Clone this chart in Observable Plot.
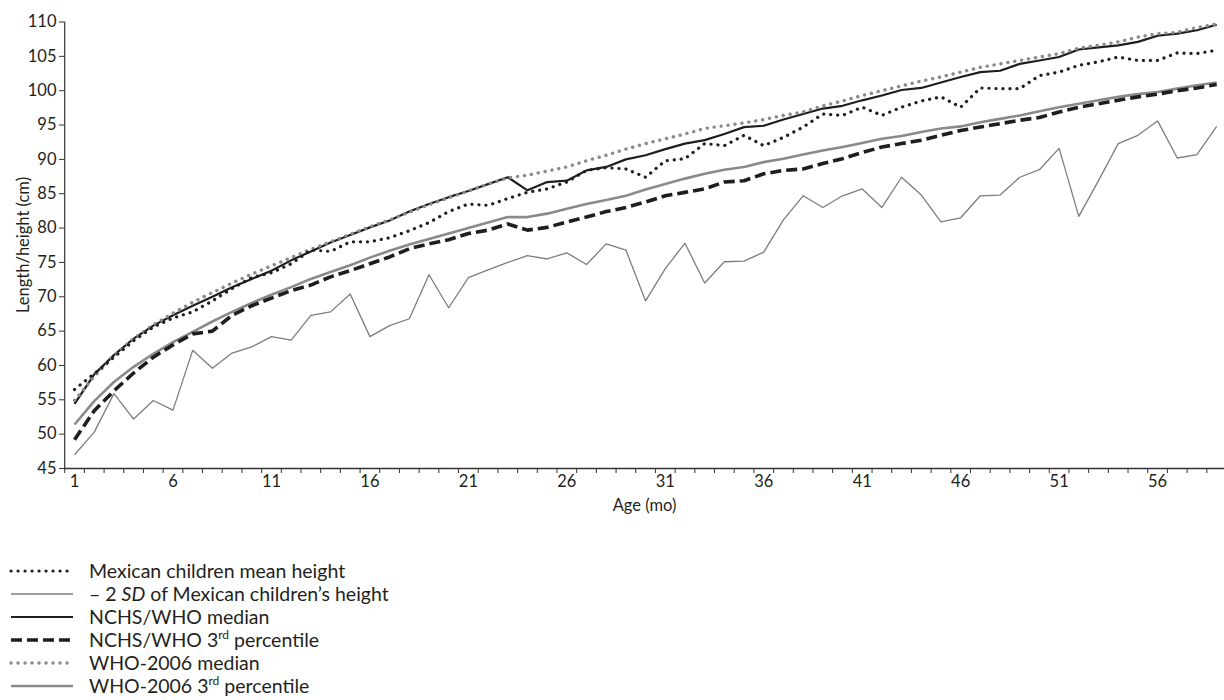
<!DOCTYPE html>
<html><head><meta charset="utf-8">
<script src="https://cdn.jsdelivr.net/npm/d3@7"></script>
<script src="https://cdn.jsdelivr.net/npm/@observablehq/plot@0.6"></script>
<style>
body{margin:0;background:#fff;font-family:Lato,"Open Sans",sans-serif;color:#231f20;}
#legend{margin-top:41px;font-size:19.5px;}
.row{display:flex;align-items:center;height:23px;}
.row svg{margin-left:9px;margin-right:14px;}
sup{font-size:12px;line-height:0;vertical-align:8px;}
</style></head><body>
<div id="chart"></div><div id="legend"></div>
<script>
const months = [1,2,3,4,5,6,7,8,9,10,11,12,13,14,15,16,17,18,19,20,21,22,23,24,25,26,27,28,29,30,31,32,33,34,35,36,37,38,39,40,41,42,43,44,45,46,47,48,49,50,51,52,53,54,55,56,57,58,59];
const xTickLabels = [1,6,11,16,21,26,31,36,41,46,51,56];
const yTicks = [45,50,55,60,65,70,75,80,85,90,95,100,105,110];

const mexMean = [56.5,58.8,61.2,63.6,65.6,66.9,67.8,69.4,71.2,72.8,
73.5,74.8,76.8,76.6,78.0,78.0,78.6,79.6,80.8,82.4,
83.5,83.3,84.3,85.2,85.7,86.7,88.4,88.8,88.6,87.4,
89.8,90.1,92.3,92.0,93.5,92.0,93.2,94.7,96.6,96.4,
97.6,96.4,97.6,98.5,99.1,97.6,100.4,100.3,100.3,102.2,
102.7,103.7,104.2,104.9,104.4,104.4,105.5,105.4,105.9];
const mexMinus2SD = [47.0,50.3,55.9,52.2,54.9,53.5,62.2,59.6,61.8,62.7,
64.2,63.7,67.3,67.8,70.4,64.2,65.8,66.8,73.2,68.4,
72.8,73.9,75.0,76.0,75.5,76.4,74.7,77.7,76.8,69.4,
74.1,77.8,72.0,75.1,75.2,76.5,81.2,84.7,83.0,84.7,
85.7,83.0,87.4,84.8,80.9,81.5,84.7,84.8,87.4,88.5,
91.6,81.7,86.9,92.3,93.5,95.6,90.2,90.7,94.8];
const nchsMedian = [54.4,58.7,61.5,63.9,65.8,67.3,68.7,70.0,71.4,72.6,
73.8,75.3,76.6,77.9,79.0,80.1,81.1,82.4,83.5,84.5,
85.4,86.4,87.4,85.5,86.7,86.9,88.4,88.9,90.0,90.6,
91.5,92.3,92.8,93.7,94.7,94.9,95.8,96.6,97.4,97.8,
98.6,99.3,100.1,100.4,101.2,102.0,102.7,102.9,103.9,104.4,
104.9,106.0,106.3,106.6,107.1,108.0,108.3,108.8,109.6];
const nchsP3 = [49.2,53.4,56.3,58.9,61.2,63.0,64.6,65.0,67.3,68.7,
69.8,70.9,71.7,72.9,73.8,74.8,75.8,77.0,77.7,78.3,
79.2,79.7,80.6,79.7,80.1,80.9,81.6,82.4,83.0,83.8,
84.7,85.2,85.7,86.7,86.9,87.9,88.4,88.6,89.4,90.1,
91.0,91.8,92.3,92.8,93.5,94.2,94.7,95.2,95.7,96.1,
96.9,97.6,98.1,98.6,99.1,99.5,100.0,100.4,100.9];
const whoMedian = [54.9,58.4,61.4,63.9,65.9,67.6,69.2,70.6,72.0,73.3,
74.5,75.7,76.9,78.0,79.1,80.2,81.2,82.3,83.4,84.4,
85.4,86.4,87.3,87.7,88.3,88.9,89.8,90.6,91.5,92.3,
93.0,93.7,94.5,94.9,95.3,95.8,96.4,96.9,97.8,98.5,
99.3,100.0,100.7,101.4,102.0,102.7,103.4,103.9,104.4,104.9,
105.4,106.2,106.6,107.1,107.8,108.3,108.5,109.2,109.7];
const whoP3 = [51.4,54.8,57.6,59.8,61.7,63.4,64.9,66.4,67.8,69.1,
70.3,71.4,72.6,73.6,74.6,75.7,76.7,77.6,78.4,79.2,
80.0,80.8,81.6,81.6,82.1,82.8,83.5,84.1,84.7,85.6,
86.4,87.2,87.9,88.5,88.9,89.6,90.1,90.7,91.3,91.8,
92.4,93.0,93.4,94.0,94.5,94.8,95.4,95.9,96.4,97.0,
97.6,98.1,98.6,99.1,99.5,99.8,100.3,100.8,101.2];

const legendLabels = [
  "Mexican children mean height",
  "– 2 <i>SD</i> of Mexican children’s height",
  "NCHS/WHO median",
  "NCHS/WHO 3<sup>rd</sup> percentile",
  "WHO-2006 median",
  "WHO-2006 3<sup>rd</sup> percentile"
];

const BLACK = "#1e1e1e", GRAY = "#8a8a8a";
const series = [
  {values: mexMinus2SD, label: legendLabels[1], stroke: "#7d7d7d", width: 1.3, dash: null, cap: "butt"},
  {values: whoP3, label: legendLabels[5], stroke: GRAY, width: 2.6, dash: null, cap: "butt"},
  {values: nchsP3, label: legendLabels[3], stroke: BLACK, width: 3.6, dash: "11 5", cap: "butt"},
  {values: nchsMedian, label: legendLabels[2], stroke: BLACK, width: 2.2, dash: null, cap: "butt"},
  {values: whoMedian, label: legendLabels[4], stroke: GRAY, width: 3.4, dash: "0.1 6.9", cap: "round"},
  {values: mexMean, label: legendLabels[0], stroke: BLACK, width: 3.2, dash: "0.1 6.9", cap: "round"}
];

const boundaries = months.map(m => m - 0.5).concat([months[months.length - 1] + 0.5]);

const lineMarks = series.map(s => Plot.line(months.map((m, i) => ({m, v: s.values[i]})), {
  x: "m", y: "v", stroke: s.stroke, strokeWidth: s.width,
  strokeDasharray: s.dash || undefined, strokeLinecap: s.cap, strokeLinejoin: "round"
}));

const chart = Plot.plot({
  width: 1224, height: 518,
  marginLeft: 64, marginRight: 0, marginTop: 21, marginBottom: 50,
  style: {fontFamily: "Lato, 'Open Sans', sans-serif", fontSize: "17px", color: "#231f20", background: "white", overflow: "visible"},
  x: {domain: [0.5, 59.5], range: [64.2, 1226]},
  y: {domain: [45, 110], range: [468, 21.5]},
  marks: [
    Plot.axisY({ticks: yTicks, tickSize: 5, tickPadding: 3, stroke: "#333", label: "Length/height (cm)", labelAnchor: "center", labelArrow: "none", labelOffset: 47, fontSize: 16.5}),
    Plot.axisX({ticks: boundaries, tickSize: 5, stroke: "#333", tickFormat: () => "", label: null}),
    Plot.axisX({ticks: xTickLabels, tickSize: 0, tickPadding: 7, label: "Age (mo)", labelAnchor: "center", labelArrow: "none", labelOffset: 42, fontSize: 16.5}),
    Plot.ruleX([0.5], {y1: 45, y2: 110, stroke: "#333", strokeWidth: 1.2}),
    Plot.ruleY([45], {stroke: "#333", strokeWidth: 1.5}),
    ...lineMarks
  ]
});
document.getElementById("chart").appendChild(chart);

const legendOrder = [5, 0, 3, 2, 4, 1];
const legend = document.getElementById("legend");
legendOrder.forEach(i => {
  const s = series[i];
  const row = document.createElement("div");
  row.className = "row";
  row.innerHTML = `<svg width="66" height="14"><line x1="2" x2="64" y1="7" y2="7" stroke="${s.stroke}" stroke-width="${s.width}" ${s.dash ? `stroke-dasharray="${s.dash}"` : ""} stroke-linecap="${s.cap}"/></svg><span>${s.label}</span>`;
  legend.appendChild(row);
});
</script>
</body></html>
